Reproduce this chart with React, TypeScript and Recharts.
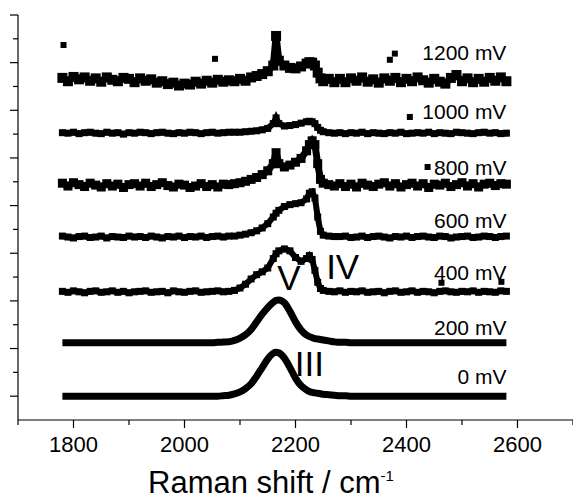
import {
  ComposedChart,
  Line,
  Scatter,
  XAxis,
  YAxis,
  ReferenceDot,
} from 'recharts';

// Raman shift grid (cm-1): 10 cm-1 steps, 5 cm-1 near the sharp features
const wavenumber = [
  1780, 1790, 1800, 1810, 1820, 1830, 1840, 1850, 1860, 1870, 1880, 1890, 1900, 1910, 1920, 1930,
  1940, 1950, 1960, 1970, 1980, 1990, 2000, 2010, 2020, 2030, 2040, 2050, 2060, 2070, 2080,
  2090, 2100, 2110, 2120, 2130, 2140, 2150, 2160, 2165, 2170, 2180, 2190, 2200, 2210, 2220, 2225,
  2230, 2235, 2240, 2245, 2250, 2260, 2270,
  2280, 2290, 2300, 2310, 2320, 2330, 2340, 2350, 2360, 2370, 2380, 2390, 2400, 2410, 2420, 2430,
  2440, 2450, 2460, 2470, 2480, 2490, 2500, 2510, 2520, 2530, 2540, 2550, 2560, 2570, 2580,
];

// intensities (a.u.), relative to its own baseline
const mv0 = [
  0, 0, 0, 0, 0, 0, 0, 0, 0, 0, 0, 0, 0, 0, 0, 0,
  0, 0, 0, 0, 0, 0, 0, 0, 0, 0, 0, 0, 0, 0.01, 0.02,
  0.05, 0.09, 0.16, 0.26, 0.42, 0.6, 0.78, 0.9, 0.92, 0.91, 0.8, 0.6, 0.38, 0.22, 0.13, 0.1,
  0.08, 0.07, 0.06, 0.05, 0.04, 0.03, 0.02,
  0.01, 0.01, 0, 0, 0, 0, 0, 0, 0, 0, 0, 0, 0, 0, 0, 0,
  0, 0, 0, 0, 0, 0, 0, 0, 0, 0, 0, 0, 0, 0, 0,
];
const mv200 = [
  0, 0, 0, 0, 0, 0, 0, 0, 0, 0, 0, 0, 0, 0, 0, 0,
  0, 0, 0, 0, 0, 0, 0, 0, 0, 0, 0, 0, 0.01, 0.015, 0.02,
  0.05, 0.1, 0.17, 0.28, 0.44, 0.6, 0.74, 0.85, 0.89, 0.9, 0.84, 0.66, 0.44, 0.27, 0.16, 0.13,
  0.11, 0.09, 0.08, 0.07, 0.06, 0.04, 0.02,
  0.01, 0.01, 0, 0, 0, 0, 0, 0, 0, 0, 0, 0, 0, 0, 0, 0,
  0, 0, 0, 0, 0, 0, 0, 0, 0, 0, 0, 0, 0, 0, 0,
];
const mv400 = [
  0.01, -0.01, 0.02, 0, -0.02, 0.01, 0.02, -0.01, 0, 0.02, -0.01, 0.01, -0.02, 0, 0.01, 0.02,
  -0.01, 0, 0.01, -0.02, 0.02, 0, -0.01, 0.01, 0.02, -0.01, 0, 0.01, 0.02, 0, 0.01,
  0.03, 0.08, 0.16, 0.27, 0.36, 0.42, 0.5, 0.7, 0.8, 0.86, 0.9, 0.86, 0.72, 0.64, 0.7, 0.76,
  0.68, 0.45, 0.2, 0.07, 0.03, 0.01, 0,
  0.02, -0.01, 0.01, 0, 0.02, -0.01, 0, 0.01, -0.02, 0.01, 0.02, -0.01, 0, 0.02, -0.01, 0.01,
  0, -0.02, 0.01, 0.02, 0, -0.01, 0.01, 0, 0.02, -0.01, 0.01, 0, -0.01, 0.02, 0.01,
];
const mv600 = [
  0.02, 0, -0.02, 0.01, 0.02, -0.01, 0, 0.02, -0.02, 0.01, 0, -0.01, 0.02, 0, 0.01, -0.01,
  0.02, 0, -0.02, 0.01, 0, 0.02, -0.01, 0.01, 0, 0.02, -0.01, 0.01, 0.02, 0, 0.02,
  0.02, 0.04, 0.06, 0.09, 0.13, 0.19, 0.28, 0.42, 0.5, 0.56, 0.64, 0.68, 0.7, 0.72, 0.8, 0.92,
  0.95, 0.82, 0.42, 0.12, 0.04, 0.02, 0.01,
  0.01, 0.02, -0.01, 0, 0.02, -0.01, 0.01, 0.02, 0, -0.02, 0.01, 0, 0.02, -0.01, 0.01, 0.02,
  0, -0.01, 0.02, 0.01, -0.02, 0, 0.01, 0.02, -0.01, 0, 0.02, 0.01, -0.01, 0.01, 0.02,
];
const mv800 = [
  0.04, -0.02, 0.05, 0.01, -0.03, 0.04, 0, -0.04, 0.03, -0.02, 0.02, -0.05, 0.01, 0.03, -0.02, 0.04,
  -0.03, 0.01, 0.05, -0.01, -0.04, 0.02, 0, -0.05, -0.02, 0.03, -0.03, 0.01, -0.04, 0.02, 0.01,
  0.03, 0.05, 0.08, 0.12, 0.16, 0.22, 0.3, 0.45, 0.68, 0.45, 0.38, 0.42, 0.48, 0.56, 0.72, 0.85,
  0.93, 0.85, 0.45, 0.12, 0.04, 0.01, -0.02,
  0.03, -0.03, 0.02, -0.04, 0.04, 0, -0.03, 0.02, 0.05, -0.02, 0.03, -0.04, 0.01, 0.04, -0.02, 0.03,
  -0.05, 0.02, 0, 0.04, -0.03, 0.01, 0.05, -0.02, 0.03, -0.04, 0.02, 0.04, -0.01, 0.03, 0.02,
];
const mv1000 = [
  0.01, 0, 0.02, -0.01, 0.01, 0.02, 0, -0.01, 0.02, 0, 0.01, -0.02, 0.01, 0, 0.02, 0.01,
  -0.01, 0.01, 0.02, 0, -0.01, 0.01, 0, 0.02, 0.01, -0.01, 0.01, 0.02, 0, 0.01, 0.02,
  0.02, 0.02, 0.03, 0.04, 0.05, 0.07, 0.1, 0.2, 0.32, 0.2, 0.15, 0.16, 0.18, 0.21, 0.24, 0.25,
  0.24, 0.2, 0.12, 0.06, 0.03, 0.01, 0,
  0.01, -0.01, 0.01, 0, 0.02, -0.01, 0.01, 0, -0.01, 0.01, 0, 0.02, -0.01, 0, 0.01, 0,
  0.02, -0.01, 0.01, 0, -0.01, 0.02, 0.01, 0, -0.01, 0.01, 0.02, 0, 0.01, -0.01, 0,
];
const mv1200 = [
  0.04, -0.03, 0.06, 0.01, 0.05, -0.02, 0.03, -0.04, 0.05, 0, -0.03, 0.04, 0.02, -0.05, 0.03, -0.02,
  0.01, -0.06, -0.03, -0.09, -0.06, -0.12, -0.08, -0.1, -0.04, -0.08, -0.02, -0.06, 0, -0.04, -0.01,
  -0.03, 0.02, -0.02, 0.05, 0.08, 0.12, 0.18, 0.3, 0.92, 0.4, 0.3, 0.25, 0.24, 0.28, 0.34, 0.37,
  0.36, 0.3, 0.15, 0.03, -0.03, 0.02, -0.05,
  0.02, -0.05, 0.03, -0.02, 0.05, -0.04, 0.01, -0.06, 0.03, -0.02, 0.04, -0.05, 0.02, -0.03, 0.05, -0.01,
  -0.06, 0.02, -0.04, -0.08, 0.04, 0.1, -0.03, 0.03, -0.05, 0.02, -0.04, 0.04, -0.02, 0.05, -0.03,
];

const potentials = ['0 mV', '200 mV', '400 mV', '600 mV', '800 mV', '1000 mV', '1200 mV'];
const spectra = [mv0, mv200, mv400, mv600, mv800, mv1000, mv1200];
const offsets = [0, 1.12, 2.19, 3.34, 4.43, 5.52, 6.64];

// stray single points (spikes) sitting off the traces
const strayTrace = [6, 6, 6, 6, 5, 4, 2, 2];
const strayX = [1782, 2055, 2370, 2379, 2406, 2438, 2463, 2571];
const strayY = [0.73, 0.44, 0.42, 0.55, 0.34, 0.38, 0.19, 0.21];

const xTicks = [1700, 1800, 1900, 2000, 2100, 2200, 2300, 2400, 2500, 2600, 2700];
const yTicks = [0, 0.5, 1, 1.5, 2, 2.5, 3, 3.5, 4, 4.5, 5, 5.5, 6, 6.5, 7, 7.5, 8];

const rows = wavenumber.map((x, i) => {
  const row: any = { x };
  spectra.forEach((s, k) => {
    row['s' + k] = s[i] + offsets[k];
  });
  return row;
});

const strays = strayX.map((x, i) => ({ x, y: strayY[i] + offsets[strayTrace[i]] }));

const FONT = 'Arial, "Liberation Sans", sans-serif';
const widths = [7, 7, 6, 6, 7, 6, 7];
const markers = [0, 0, 7, 7, 9, 7, 10];
const lifts = [12, 8, 12, 9, 10, 14, 20];

function YTick({ x, y, payload }: any) {
  const major = Number.isInteger(payload.value);
  return <line x1={x - (major ? 8 : 5)} x2={x} y1={y} y2={y} stroke="#000" strokeWidth={1.2} />;
}

function XTick({ x, y, payload }: any) {
  const v = payload.value;
  const major = v % 200 === 0;
  return (
    <g>
      <line x1={x} x2={x} y1={y} y2={y + (major ? 8 : 5)} stroke="#000" strokeWidth={1.2} />
      {major && (
        <text x={x} y={y + 32} textAnchor="middle" fontSize={22} fontFamily={FONT} fill="#000">
          {v}
        </text>
      )}
    </g>
  );
}

function AxisTitle() {
  return (
    <text x={271} y={493} textAnchor="middle" fontSize={31} fontFamily={FONT} fill="#000">
      <tspan>Raman shift / cm</tspan>
      <tspan dy={-12} fontSize={15}>-1</tspan>
    </text>
  );
}

function SideLabel({ viewBox, text, lift }: any) {
  return (
    <text x={viewBox.x} y={viewBox.y - lift} textAnchor="end" fontSize={21} fontFamily={FONT} fill="#000">
      {text}
    </text>
  );
}

function BandLabel({ viewBox, text }: any) {
  return (
    <text
      x={viewBox.x}
      y={viewBox.y}
      textAnchor="middle"
      dominantBaseline="central"
      fontSize={35}
      fontFamily={FONT}
      fill="#000"
    >
      {text}
    </text>
  );
}

const Square = ({ cx, cy, size = 6 }: any) =>
  cx == null || cy == null ? null : (
    <rect x={cx - size / 2} y={cy - size / 2} width={size} height={size} fill="#000" stroke="none" />
  );

export default function App() {
  return (
    <div style={{ position: 'absolute', left: 0, top: 0, background: '#fff' }}>
      <ComposedChart
        width={573}
        height={499}
        data={rows}
        margin={{ top: 15, right: 0, bottom: 0, left: 0 }}
      >
        <XAxis
          dataKey="x"
          type="number"
          domain={[1700, 2700]}
          ticks={xTicks}
          interval={0}
          height={79}
          tickSize={0}
          tickMargin={0}
          tickLine={false}
          tick={<XTick />}
          axisLine={{ stroke: '#000', strokeWidth: 1.2 }}
          label={<AxisTitle />}
        />
        <YAxis
          type="number"
          domain={[-0.5, 8]}
          ticks={yTicks}
          interval={0}
          width={18}
          tickSize={0}
          tickMargin={0}
          tickLine={false}
          tick={<YTick />}
          axisLine={{ stroke: '#000', strokeWidth: 1.2 }}
        />
        {spectra.map((_, k) => (
          <Line
            key={k}
            dataKey={'s' + k}
            type={k < 2 ? 'monotone' : 'linear'}
            stroke="#000"
            strokeWidth={widths[k]}
            dot={markers[k] ? (p: any) => <Square key={p.index} cx={p.cx} cy={p.cy} size={markers[k]} /> : false}
            activeDot={false}
            isAnimationActive={false}
          />
        ))}
        <Scatter data={strays} dataKey="y" shape={<Square size={6} />} isAnimationActive={false} />
        {potentials.map((p, k) => (
          <ReferenceDot
            key={p}
            x={2580}
            y={offsets[k]}
            r={0}
            fill="none"
            stroke="none"
            label={<SideLabel text={p} lift={lifts[k]} />}
          />
        ))}
        <ReferenceDot x={2225} y={0.69} r={0} fill="none" stroke="none" label={<BandLabel text="III" />} />
        <ReferenceDot x={2285} y={2.72} r={0} fill="none" stroke="none" label={<BandLabel text="IV" />} />
        <ReferenceDot x={2188} y={2.49} r={0} fill="none" stroke="none" label={<BandLabel text="V" />} />
      </ComposedChart>
    </div>
  );
}
